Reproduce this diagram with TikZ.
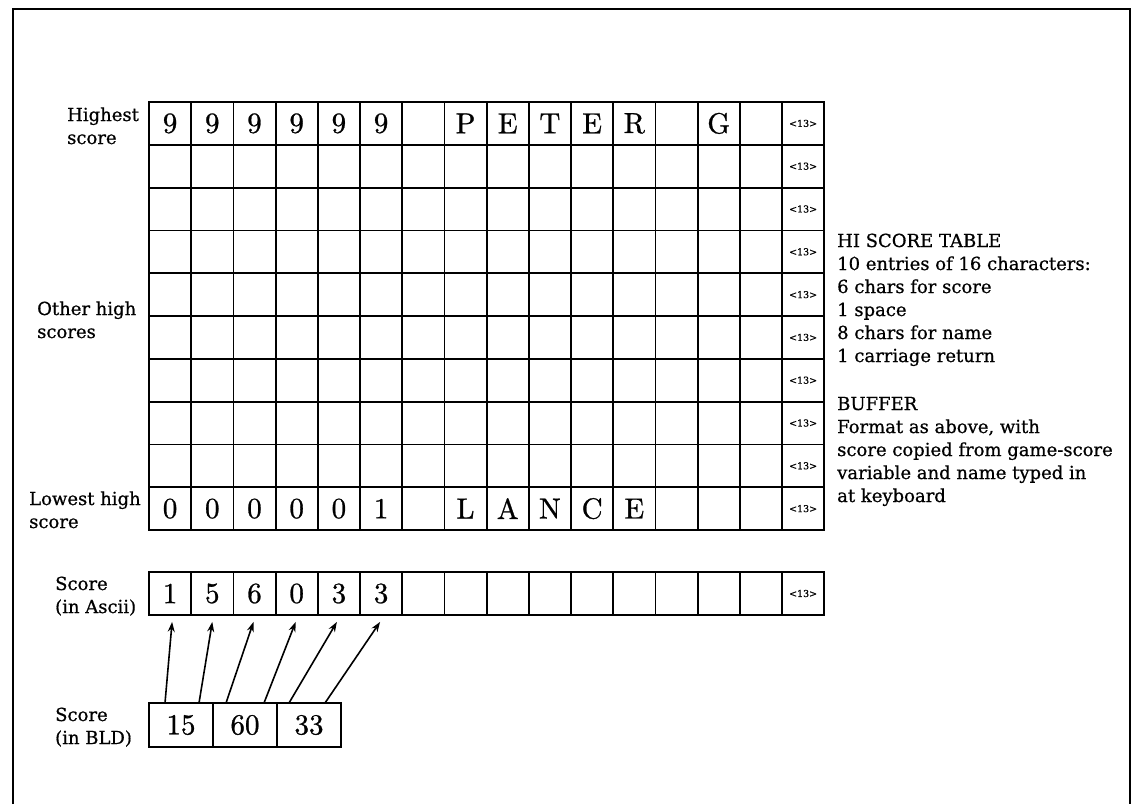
\documentclass[tikz,border=0pt]{standalone}
\usepackage{fontspec}
\usetikzlibrary{arrows.meta}
\newfontfamily\dvserif{DejaVu Serif}[FakeBold=0.7]
\newfontfamily\cellfont{lmroman10-regular.otf}[FakeBold=0.9]
\begin{document}
\begin{tikzpicture}[x=1pt,y=-1pt,
  cell/.style={draw, line width=1.8pt, minimum width=42.2pt, minimum height=42.8pt,
    inner sep=0pt, outer sep=0pt, font=\cellfont\fontsize{29}{29}\selectfont},
  crcell/.style={cell, font=\dvserif\fontsize{9.5}{9.5}\selectfont},
  bldcell/.style={cell, minimum width=64pt, minimum height=44pt},
  lbl/.style={anchor=base west, inner sep=0pt, font=\dvserif\fontsize{18}{23}\selectfont},
  conv/.style={line width=1.6pt, -{Stealth[length=10pt,width=7pt]}},
  frame/.style={line width=1.6pt}]
\useasboundingbox (0,0) rectangle (1138,804);
\draw[frame] (13,804) -- (13,9) -- (1130,9) -- (1130,804);

% hi score table
\foreach \t [count=\c] in {9,9,9,9,9,9,{},P,E,T,E,R,{},G,{}}
  \node[cell] (t-1-\c) at ({149+(\c-0.5)*42.2},{102+0.5*42.8}) {\t};
\foreach \r in {2,...,9}
  \foreach \c in {1,...,15}
    \node[cell] (t-\r-\c) at ({149+(\c-0.5)*42.2},{102+(\r-0.5)*42.8}) {};
\foreach \t [count=\c] in {0,0,0,0,0,1,{},L,A,N,C,E,{},{},{}}
  \node[cell] (t-10-\c) at ({149+(\c-0.5)*42.2},{102+9.5*42.8}) {\t};
\foreach \r in {1,...,10}
  \node[crcell] (t-\r-16) at ({149+15.5*42.2},{102+(\r-0.5)*42.8}) {<13>};

% ascii buffer
\foreach \t [count=\c] in {1,5,6,0,3,3,{},{},{},{},{},{},{},{},{}}
  \node[cell] (a-\c) at ({149+(\c-0.5)*42.2},593.5) {\t};
\node[crcell] (a-16) at ({149+15.5*42.2},593.5) {<13>};

% BLD score
\foreach \t [count=\c] in {15,60,33}
  \node[bldcell] (b-\c) at ({149+(\c-0.5)*64},725) {\t};

% labels
\node[lbl] (lhigh) at (67,121) {\begin{tabular}[t]{@{}l@{}}Highest\\score\end{tabular}};
\node[lbl] (lother) at (37,315) {\begin{tabular}[t]{@{}l@{}}Other high\\scores\end{tabular}};
\node[lbl] (llow) at (29,505) {\begin{tabular}[t]{@{}l@{}}Lowest high\\score\end{tabular}};
\node[lbl] (lascii) at (55,590) {\begin{tabular}[t]{@{}l@{}}Score\\(in Ascii)\end{tabular}};
\node[lbl] (lbld) at (55,721) {\begin{tabular}[t]{@{}l@{}}Score\\(in BLD)\end{tabular}};
\node[lbl] (notes) at (837,247) {\begin{tabular}[t]{@{}l@{}}HI SCORE TABLE\\
10 entries of 16 characters:\\
6 chars for score\\
1 space\\
8 chars for name\\
1 carriage return\\[25pt]
BUFFER\\
Format as above, with\\
score copied from game-score\\
variable and name typed in\\
at keyboard\end{tabular}};

% conversion arrows
\draw[conv] ([xshift=-16pt]b-1.north) -- ([xshift=2pt,yshift=-7pt]a-1.south);
\draw[conv] ([xshift=18pt]b-1.north) -- ([yshift=-7pt]a-2.south);
\draw[conv] ([xshift=-19pt]b-2.north) -- ([xshift=-1pt,yshift=-7pt]a-3.south);
\draw[conv] ([xshift=19pt]b-2.north) -- ([xshift=-1pt,yshift=-7pt]a-4.south);
\draw[conv] ([xshift=-20pt]b-3.north) -- ([xshift=-2pt,yshift=-7pt]a-5.south);
\draw[conv] ([xshift=16pt]b-3.north) -- ([xshift=-1pt,yshift=-7pt]a-6.south);
\end{tikzpicture}
\end{document}
